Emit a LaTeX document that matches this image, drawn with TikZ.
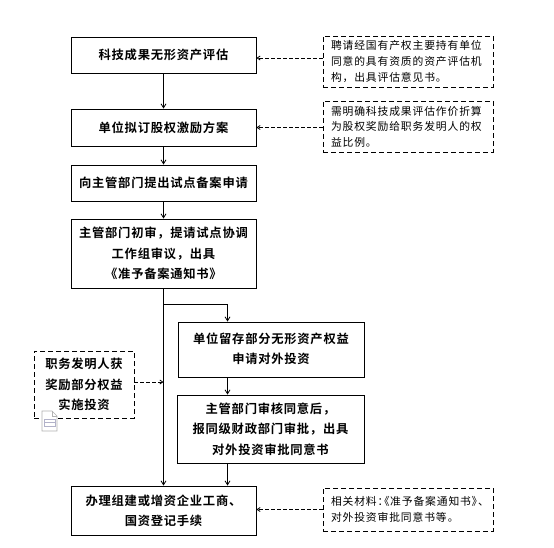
\documentclass[tikz,border=0pt]{standalone}
\usepackage{fontspec}
\setmainfont{Noto Sans CJK SC}[BoldFont={Noto Sans CJK SC Bold},LetterSpace=6]
\newfontfamily\notefont{Noto Sans CJK SC}[LetterSpace=8]
\newfontfamily\notepalt{Noto Sans CJK SC}[LetterSpace=8,RawFeature={+palt}]
\usetikzlibrary{arrows.meta}
\tikzset{
  px/.style={x=1bp,y=-1bp},
  solidbox/.style={draw=black,line width=0.9bp,align=center,inner sep=0pt,font=\fontsize{12.3bp}{20.3bp}\selectfont\bfseries},
  notebox/.style={draw=black,dash pattern=on 5bp off 3bp,line width=0.9bp,align=left,inner sep=0pt,minimum width=170bp,text width=154bp,font=\notefont\fontsize{10.8bp}{15.6bp}\selectfont},
  flow/.style={draw=black,line width=0.8bp,-{Straight Barb[length=4bp,width=5bp]}},
  link/.style={draw=black,line width=0.8bp,dash pattern=on 3.5bp off 2.5bp,-{Straight Barb[length=3bp,width=4bp]}}
}
\begin{document}
\begin{tikzpicture}[px]
\useasboundingbox (0,0) rectangle (554,548);
\fill[white] (0,0) rectangle (554,548);
\node[solidbox,minimum width=185bp,minimum height=36bp] (a) at (163.5,55) {科技成果无形资产评估};
\node[solidbox,minimum width=185bp,minimum height=37bp] (b) at (163.5,127.5) {单位拟订股权激励方案};
\node[solidbox,minimum width=185bp,minimum height=36bp] (c) at (163.5,183) {向主管部门提出试点备案申请};
\node[solidbox,minimum width=185bp,minimum height=69bp] (d) at (163.5,253.5) {主管部门初审，提请试点协调\\工作组审议，出具\\《准予备案通知书》};
\node[solidbox,minimum width=186bp,minimum height=55bp] (e) at (271,349.5) {\raisebox{2bp}{单位留存部分无形资产权益}\\\raisebox{2bp}{申请对外投资}};
\node[solidbox,minimum width=187bp,minimum height=68bp] (f) at (270.5,429) {主管部门审核同意后，\\报同级财政部门审批，出具\\对外投资审批同意书};
\node[solidbox,minimum width=185bp,minimum height=49bp] (g) at (163.5,510.5) {办理组建或增资企业工商、\\国资登记手续};
\node[notebox,minimum height=51bp] (n1) at (408,61.5) {\raisebox{-2bp}{聘请经国有产权主要持有单位}\\\raisebox{-2bp}{同意的具有资质的资产评估机}\\\raisebox{-2bp}{构，出具评估意见书。}};
\node[notebox,minimum height=51bp] (n2) at (408,126.5) {需明确科技成果评估作价折算\\为股权奖励给职务发明人的权\\益比例。};
\node[notebox,minimum height=43bp] (n3) at (408,509.5) {\notepalt 相关材料：《准予备案通知书》、\\对外投资审批同意书等。};
\node[solidbox,dash pattern=on 5bp off 3bp,minimum width=100bp,minimum height=67bp] (n4) at (84,384.5) {职务发明人获\\奖励部分权益\\实施投资};
\coordinate (j1) at (163.5,304);
\coordinate (j2) at (163.5,382);
\coordinate (ya) at (0,58);
\coordinate (yb) at (0,127.5);
\coordinate (yg) at (0,509.5);
\coordinate (xm) at (227.5,0);
\draw[flow] (a) -- (b);
\draw[flow] (b) -- (c);
\draw[flow] (c) -- (d);
\draw[flow] (d.south) -- (g.north);
\draw[flow] (j1) -| (e.north -| xm);
\draw[flow] (e.south -| xm) -- (f.north -| xm);
\draw[flow] (f.south -| xm) -- (g.north -| xm);
\draw[link] (n4.east |- j2) -- (j2);
\draw[link] (n1.west |- ya) -- (a.east |- ya);
\draw[link] (n2.west |- yb) -- (b.east |- yb);
\draw[link] (n3.west |- yg) -- (g.east |- yg);
% document icon
\fill[white] (42,411) -- (52,411) -- (57,416) -- (57,431) -- (42,431) -- cycle;
\draw[black!30,line width=0.6bp] (42,411) -- (52,411) -- (57,416) -- (57,431) -- (42,431) -- cycle;
\draw[black!30,line width=0.6bp] (52,411) -- (52,416) -- (57,416);
\draw[blue!30!black!30,line width=0.6bp] (44,419) rectangle (55,426);
\draw[blue!30!black!30,line width=0.6bp] (44,422.5) -- (55,422.5);
\end{tikzpicture}
\end{document}
